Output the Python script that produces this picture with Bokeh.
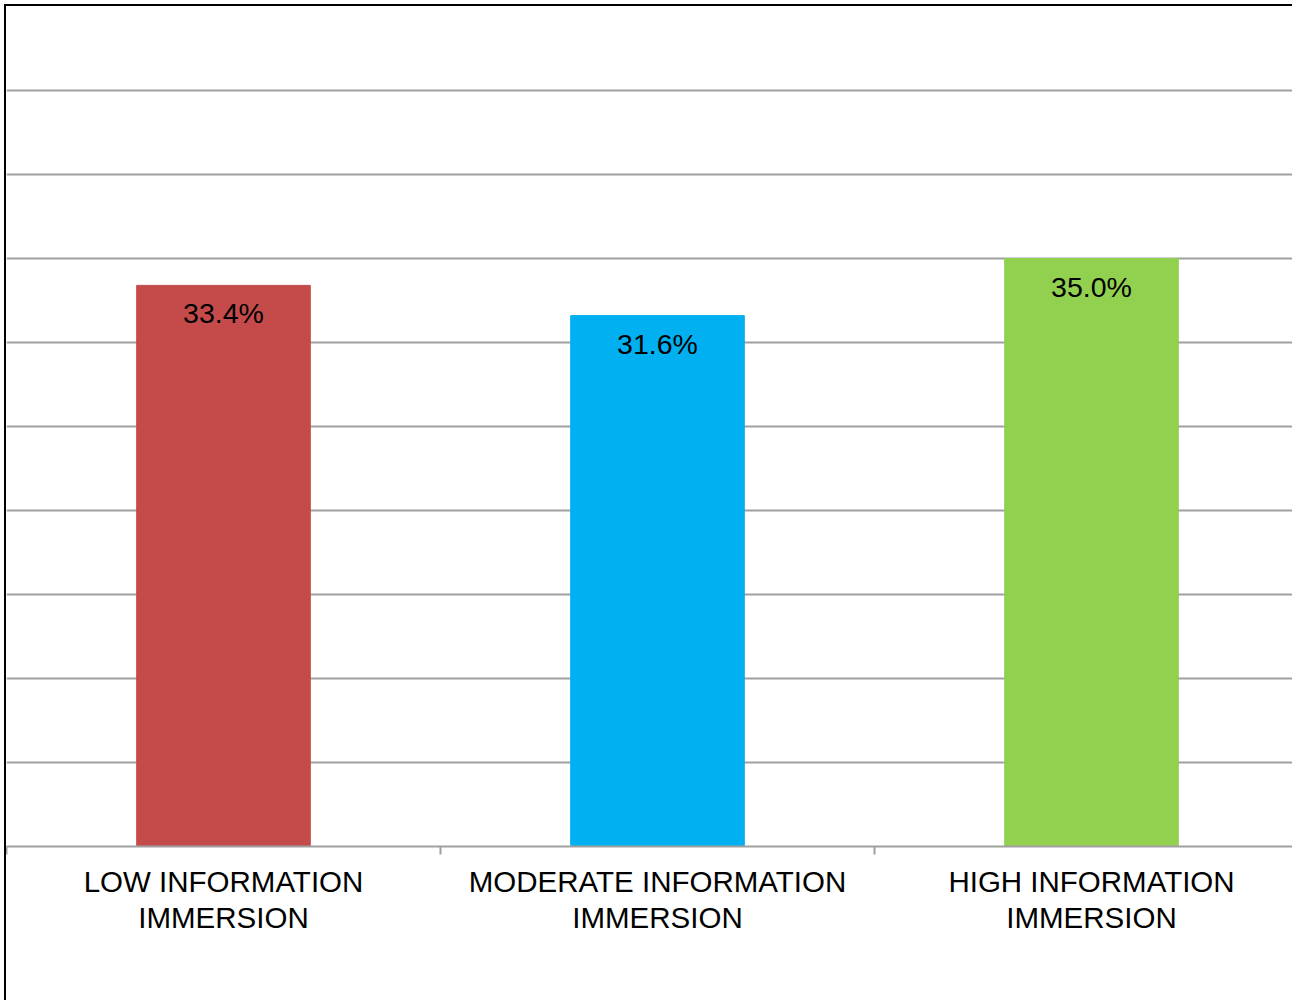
from bokeh.plotting import figure
from bokeh.models import Range1d, FixedTicker, ColumnDataSource
from bokeh.core.properties import value
from bokeh.embed import file_html
from bokeh.resources import INLINE

categories = ["LOW INFORMATION\nIMMERSION", "MODERATE INFORMATION\nIMMERSION", "HIGH INFORMATION\nIMMERSION"]
values = [33.4, 31.6, 35.0]
value_labels = ["33.4%", "31.6%", "35.0%"]
colors = ["#C44B4A", "#00B0F0", "#92D050"]
grid_ticks = [0, 5, 10, 15, 20, 25, 30, 35, 40, 45, 50]

xpos = [i + 0.5 for i in range(len(categories))]
src = ColumnDataSource(dict(x=xpos, top=values, label=value_labels, color=colors))

W, H = 1288, 996
p = figure(width=W, height=H, output_backend="svg", toolbar_location=None,
           x_range=Range1d(0, W / 434), y_range=Range1d(0, 50),
           min_border_left=0, min_border_right=0, min_border_top=0, min_border_bottom=156)
p.styles = {"border-left": "2px solid black", "border-top": "2px solid black",
            "margin-left": "4px", "margin-top": "4px"}
p.outline_line_color = None
p.background_fill_color = "white"
p.border_fill_color = "white"

p.vbar(x="x", top="top", width=0.4, color="color", source=src)
p.text(x="x", y="top", text="label", source=src, text_align="center", text_baseline="top",
       y_offset=12, text_font_size="28.5px", text_color="black",
       text_font=value("Liberation Sans"))

p.yaxis.visible = False
p.xgrid.visible = False
p.ygrid.ticker = FixedTicker(ticks=grid_ticks)
p.ygrid.grid_line_color = "#A0A0A0"
p.ygrid.grid_line_width = 2

ax = p.xaxis[0]
ax.ticker = FixedTicker(ticks=xpos, minor_ticks=[0, 1, 2, 3])
ax.major_label_overrides = {xv: c for xv, c in zip(xpos, categories)}
ax.major_tick_out = 0
ax.major_tick_in = 0
ax.minor_tick_in = 0
ax.minor_tick_out = 8
ax.minor_tick_line_color = "#A0A0A0"
ax.minor_tick_line_width = 2
ax.axis_line_color = "#A0A0A0"
ax.axis_line_width = 2
ax.major_label_text_font = "Liberation Sans"
ax.major_label_text_font_size = "29.5px"
ax.major_label_text_color = "black"
ax.major_label_text_line_height = 1.1
ax.major_label_standoff = 10

open("out.html", "w").write(file_html(p, INLINE))
